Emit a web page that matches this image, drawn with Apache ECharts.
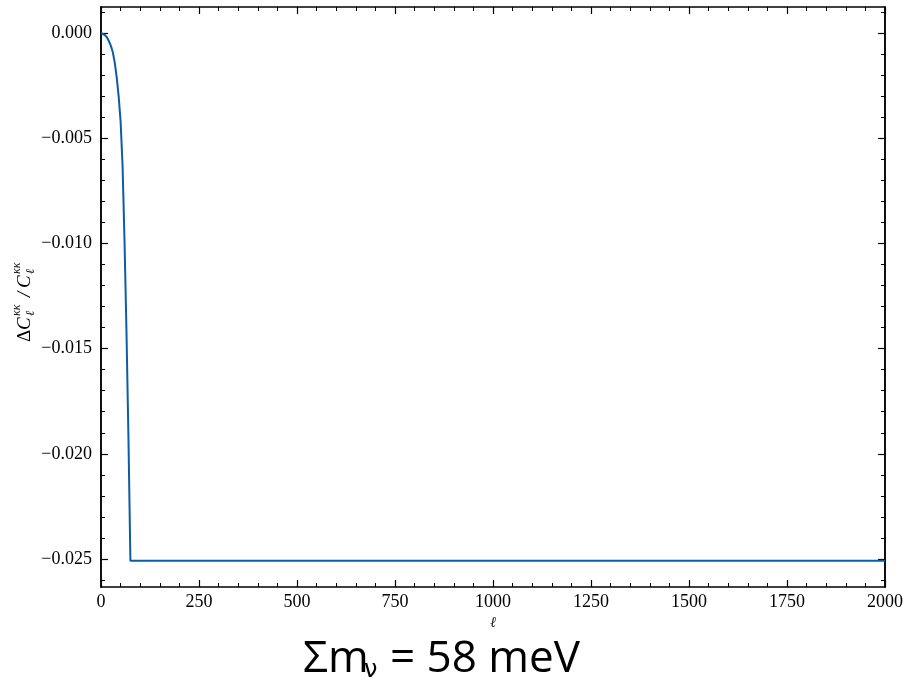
<!DOCTYPE html>
<html>
<head>
<meta charset="utf-8">
<title>Lensing power spectrum ratio</title>
<script src="https://cdn.jsdelivr.net/npm/echarts@6/dist/echarts.min.js"></script>
<style>
  html, body { margin: 0; padding: 0; background: #ffffff; }
  #chart { width: 906px; height: 683px; }
</style>
</head>
<body>
<div id="chart"></div>
<script>
// Multipole values and fractional change of the lensing convergence spectrum
const ellValues   = [0, 5, 10, 15, 20, 25, 30, 35, 40, 45, 50, 55, 60, 65, 70, 75, 2000];
const deltaValues = [0, -0.00003, -0.0001, -0.0002, -0.00038, -0.0006, -0.0009, -0.0014,
                     -0.0021, -0.003, -0.0042, -0.0063, -0.0099, -0.0142, -0.0192,
                     -0.02508, -0.02508];

// Axis ticks
const xTickStep = 250;
const yMajorTicks = [0, -0.005, -0.01, -0.015, -0.02, -0.025];
const yMinorTicks = [0.001, -0.001, -0.002, -0.003, -0.004, -0.006, -0.007, -0.008, -0.009,
                     -0.011, -0.012, -0.013, -0.014, -0.016, -0.017, -0.018, -0.019,
                     -0.021, -0.022, -0.023, -0.024, -0.026];

const chart = echarts.init(document.getElementById('chart'), null, { renderer: 'canvas' });

const serif = '"Liberation Serif", "DejaVu Serif", serif';
const sans = '"Open Sans", "Noto Sans", sans-serif';
const axisColor = '#000000';
const lineColor = '#0C5DA5';

const fmtY = v => (v < 0 ? '\u2212' : '') + Math.abs(v).toFixed(3);

function xAxisDef(pos, showLabels) {
  return {
    type: 'value',
    position: pos,
    min: 0,
    max: 2000,
    interval: xTickStep,
    axisLine: { show: true, onZero: false, lineStyle: { color: axisColor, width: 1.5 } },
    axisTick: { show: true, inside: true, length: 7, lineStyle: { color: axisColor, width: 1.2 } },
    minorTick: { show: true, splitNumber: 5, length: 4, lineStyle: { color: axisColor, width: 1 } },
    axisLabel: {
      show: showLabels, margin: 6, color: '#000', fontFamily: serif, fontSize: 18,
      formatter: v => String(v)
    },
    splitLine: { show: false },
    minorSplitLine: { show: false },
    name: showLabels ? '\u2113' : '',
    nameLocation: 'middle',
    nameGap: 14,
    nameTextStyle: { fontFamily: serif, fontStyle: 'italic', fontSize: 15, color: '#222' }
  };
}

function yAxisDef(pos, ticks, len, showLabels) {
  return {
    type: 'value',
    position: pos,
    min: -0.026331,
    max: 0.001236,
    axisLine: { show: true, onZero: false, lineStyle: { color: axisColor, width: 1.5 } },
    axisTick: { show: true, inside: true, length: len, customValues: ticks,
                lineStyle: { color: axisColor, width: len > 5 ? 1.2 : 1 } },
    axisLabel: {
      show: showLabels, customValues: showLabels ? ticks : undefined, margin: 9,
      color: '#000', fontFamily: serif, fontSize: 18, formatter: fmtY
    },
    splitLine: { show: false }
  };
}

// Rotated y-axis title: ΔC_ℓ^{κκ} / C_ℓ^{κκ}
const yTitleParts = [];
function addPart(text, x, y, size, italic) {
  yTitleParts.push({
    type: 'text', x: x, y: y,
    style: {
      text: text, fill: '#000', fontFamily: serif, fontSize: size,
      fontStyle: italic ? 'italic' : 'normal',
      align: 'left', verticalAlign: 'middle'
    }
  });
}
addPart('\u0394', 0, 0, 19, false);
addPart('C', 12, 0, 19, true);
addPart('\u03BA\u03BA', 26, -8, 12, true);
addPart('\u2113', 26, 6, 12, true);
addPart('/', 45, 0, 19, true);
addPart('C', 54, 0, 19, true);
addPart('\u03BA\u03BA', 68, -8, 12, true);
addPart('\u2113', 68, 6, 12, true);

const option = {
  animation: false,
  backgroundColor: '#ffffff',
  grid: { left: 101, right: 21, top: 7, bottom: 96, containLabel: false },
  xAxis: [xAxisDef('bottom', true), xAxisDef('top', false)],
  yAxis: [
    yAxisDef('left', yMajorTicks, 7, true),
    yAxisDef('left', yMinorTicks, 4, false),
    yAxisDef('right', yMajorTicks, 7, false),
    yAxisDef('right', yMinorTicks, 4, false)
  ],
  series: [{
    type: 'line',
    xAxisIndex: 0,
    yAxisIndex: 0,
    data: ellValues.map((l, i) => [l, deltaValues[i]]),
    showSymbol: false,
    symbol: 'none',
    lineStyle: { color: lineColor, width: 2 },
    clip: true
  }],
  graphic: [
    {
      type: 'group',
      x: 25, y: 342,
      rotation: Math.PI / 2,
      children: yTitleParts
    },
    {
      type: 'text', x: 303, y: 659,
      style: { text: '\u03A3m', fill: '#000', fontFamily: sans,
               fontSize: 44, align: 'left', verticalAlign: 'middle' }
    },
    {
      type: 'text', x: 364, y: 671,
      style: { text: '\u03BD', fill: '#000', fontFamily: '"DejaVu Sans", sans-serif',
               fontSize: 24, align: 'left', verticalAlign: 'middle' }
    },
    {
      type: 'text', x: 390, y: 659,
      style: { text: '= 58 meV', fill: '#000', fontFamily: sans,
               fontSize: 44, align: 'left', verticalAlign: 'middle' }
    }
  ]
};

chart.setOption(option);
</script>
</body>
</html>
